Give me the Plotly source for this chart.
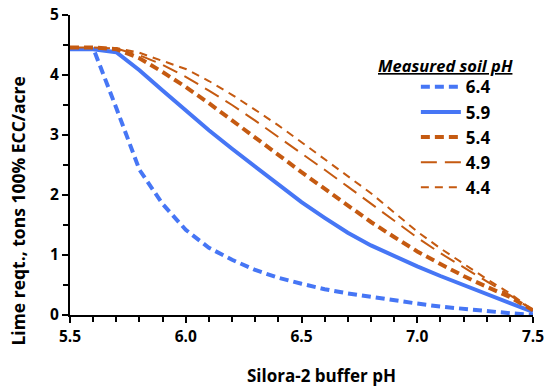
import plotly.graph_objects as go

buffer_ph = [5.5, 5.6, 5.7, 5.8, 5.9, 6.0, 6.1, 6.2, 6.3, 6.4, 6.5, 6.6, 6.7, 6.8, 6.9, 7.0, 7.1, 7.2, 7.3, 7.4, 7.5]
s64 = [4.45, 4.45, 3.45, 2.42, 1.85, 1.42, 1.12, 0.92, 0.75, 0.62, 0.52, 0.43, 0.36, 0.30, 0.24, 0.19, 0.14, 0.10, 0.06, 0.03, 0.0]
s59 = [4.43, 4.43, 4.38, 4.08, 3.74, 3.40, 3.08, 2.77, 2.47, 2.17, 1.88, 1.62, 1.37, 1.16, 0.98, 0.81, 0.65, 0.50, 0.35, 0.20, 0.05]
s54 = [4.46, 4.46, 4.43, 4.28, 4.05, 3.80, 3.53, 3.25, 2.96, 2.67, 2.38, 2.10, 1.82, 1.55, 1.30, 1.06, 0.85, 0.65, 0.47, 0.30, 0.08]
s49 = [4.46, 4.46, 4.44, 4.33, 4.17, 3.97, 3.74, 3.50, 3.24, 2.97, 2.70, 2.42, 2.14, 1.86, 1.57, 1.29, 1.03, 0.79, 0.56, 0.33, 0.08]
s44 = [4.46, 4.46, 4.45, 4.37, 4.24, 4.10, 3.90, 3.67, 3.42, 3.16, 2.88, 2.60, 2.32, 2.03, 1.71, 1.39, 1.11, 0.85, 0.60, 0.36, 0.08]
series_names = ["6.4", "5.9", "5.4", "4.9", "4.4"]
legend_title = "Measured soil pH"
x_title = "Silora-2 buffer pH"
y_title = "Lime reqt., tons 100% ECC/acre"

BLUE = "#4676F5"
ORANGE = "#C55A11"
styles = [
    dict(color=BLUE, width=4, dash="9px,5px"),
    dict(color=BLUE, width=4, dash="solid"),
    dict(color=ORANGE, width=4, dash="9px,5px"),
    dict(color=ORANGE, width=2, dash="16px,8px"),
    dict(color=ORANGE, width=2, dash="8px,6px"),
]

fig = go.Figure()
for name, ys, st in zip(series_names, [s64, s59, s54, s49, s44], styles):
    fig.add_trace(go.Scatter(x=buffer_ph, y=ys, mode="lines", name=name, line=st))

FONT = "'Open Sans', sans-serif"
fig.add_annotation(
    text="<b><i><u>" + legend_title + "</u></i></b>",
    xref="paper", yref="paper", x=0.811, y=0.833,
    xanchor="center", yanchor="middle", showarrow=False,
    font=dict(size=16.5, family=FONT, color="black"),
)
fig.add_annotation(
    text="<b>" + x_title + "</b>",
    xref="paper", yref="paper", x=0.544, y=-0.203,
    xanchor="center", yanchor="middle", showarrow=False,
    font=dict(size=17, family=FONT, color="black"),
)
fig.add_annotation(
    text="<b>" + y_title + "</b>",
    xref="paper", yref="paper", x=-0.113, y=0.347, textangle=-90,
    xanchor="center", yanchor="middle", showarrow=False,
    font=dict(size=17.5, family=FONT, color="black"),
)
fig.update_layout(
    width=547, height=388,
    margin=dict(l=70, r=14, t=15, b=73),
    paper_bgcolor="white", plot_bgcolor="white",
    font=dict(family=FONT, size=15, color="black"),
    showlegend=True,
    legend=dict(
        x=0.747, y=0.819, xanchor="left", yanchor="top",
        font=dict(size=17, family=FONT, weight="bold"),
        bgcolor="rgba(0,0,0,0)",
        tracegroupgap=0, itemwidth=40,
    ),
    xaxis=dict(
        range=[5.5, 7.5], dtick=0.5, tick0=5.5, tickformat=".1f",
        automargin=False,
        showline=True, linecolor="black", linewidth=2,
        ticks="outside", ticklen=6, tickwidth=2, tickcolor="black",
        minor=dict(dtick=0.1, ticks="outside", ticklen=5, tickwidth=1.5, tickcolor="black", showgrid=False),
        showgrid=False, zeroline=False,
        tickfont=dict(size=15.5, family=FONT, weight="bold"),
    ),
    yaxis=dict(
        range=[0, 5], dtick=1,
        automargin=False,
        showline=True, linecolor="black", linewidth=2,
        ticks="outside", ticklen=6, tickwidth=2, tickcolor="black",
        minor=dict(dtick=0.5, ticks="outside", ticklen=5, tickwidth=1.5, tickcolor="black", showgrid=False),
        showgrid=False, zeroline=False,
        tickfont=dict(size=15.5, family=FONT, weight="bold"),
    ),
)
fig.write_html("out.html")
